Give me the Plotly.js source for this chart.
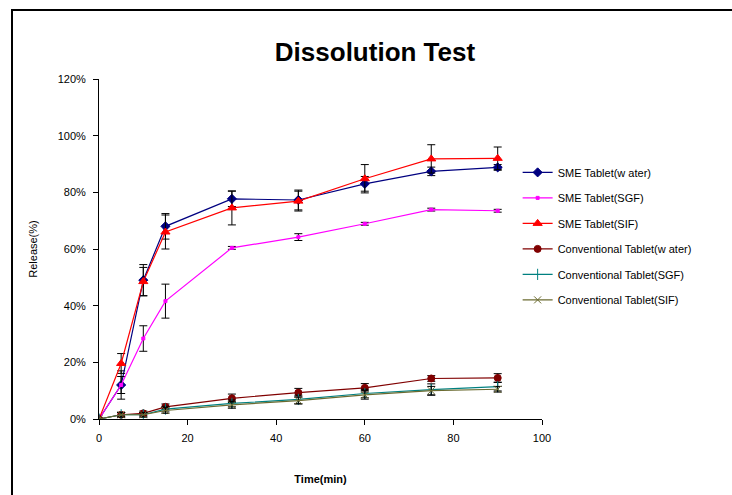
<!DOCTYPE html>
<html>
<head>
<meta charset="utf-8">
<script src="https://cdn.plot.ly/plotly-3.0.1.min.js"></script>
<style>
html,body{margin:0;padding:0;background:#fff;overflow:hidden;width:732px;height:495px;}
#chart{position:absolute;left:0;top:0;width:732px;height:495px;}
#frame{position:absolute;left:11px;top:9px;width:800px;height:600px;border-top:2px solid #000;border-left:2px solid #000;pointer-events:none;}
</style>
</head>
<body>
<div id="chart"></div>
<div id="frame"></div>
<script>
const time = [0, 5, 10, 15, 30, 45, 60, 75, 90];

const smeWater = [0, 12, 49, 68, 77.7, 77.3, 83, 87.4, 88.8];
const smeWaterErr = [0, 5, 5.5, 4.5, 2.7, 3.5, 2.6, 1.5, 1];

const smeSGF = [0, 12, 28.4, 41.6, 60.4, 64.2, 68.9, 73.9, 73.5];
const smeSGFErr = [0, 3, 4.5, 6, 0.5, 1.2, 0.5, 0.5, 0.5];

const smeSIF = [0, 19.6, 48.5, 66, 74.5, 76.9, 84.8, 91.8, 92];
const smeSIFErr = [0, 3.5, 5, 6, 6, 3.5, 5, 5, 4];

const convWater = [0, 1.5, 2, 4.3, 7.3, 9.3, 11, 14.3, 14.5];
const convWaterErr = [0, 0.8, 0.8, 1, 1.5, 1.5, 1.5, 1, 1.5];

const convSGF = [0, 1.5, 1.5, 3.5, 5.5, 6.9, 9, 10.4, 11.4];
const convSGFErr = [0, 0.8, 0.8, 1, 1.2, 1.5, 1.5, 2, 1.5];

const convSIF = [0, 1.5, 1.5, 3, 5, 6.5, 8.5, 10, 10.5];
const convSIFErr = [0, 0.8, 0.8, 1, 1.2, 1.2, 1.5, 1.5, 1];

const yTickVals = [0, 20, 40, 60, 80, 100, 120];
const yTickText = ['0%', '20%', '40%', '60%', '80%', '100%', '120%'];
const xTickVals = [0, 20, 40, 60, 80, 100];

const names = ['SME Tablet(w ater)', 'SME Tablet(SGF)', 'SME Tablet(SIF)',
  'Conventional Tablet(w ater)', 'Conventional Tablet(SGF)', 'Conventional Tablet(SIF)'];

function tr(i, y, err, color, symbol, size) {
  return {
    x: time, y: y, type: 'scatter', mode: 'lines+markers', name: names[i],
    legendgroup: 'g' + i,
    line: {color: color, width: 1.2},
    marker: {color: color, symbol: symbol, size: size, line: {color: color, width: 1}},
    error_y: {type: 'data', array: err, visible: true, color: '#000', thickness: 1, width: 4}
  };
}

const data = [
  tr(0, smeWater, smeWaterErr, '#000080', 'diamond', 7),
  tr(1, smeSGF, smeSGFErr, '#FF00FF', 'square', 3),
  tr(2, smeSIF, smeSIFErr, '#FF0000', 'triangle-up', 8),
  tr(3, convWater, convWaterErr, '#800000', 'circle', 7),
  tr(4, convSGF, convSGFErr, '#008080', 'line-ns-open', 8),
  tr(5, convSIF, convSIFErr, '#6b6b30', 'x-thin-open', 7)
];

const layout = {
  width: 732, height: 495,
  margin: {l: 99, r: 190, t: 79, b: 76},
  paper_bgcolor: '#fff', plot_bgcolor: '#fff',
  font: {family: 'Liberation Sans, Arial, sans-serif', size: 11, color: '#000'},
  title: {text: '<b>Dissolution Test</b>', font: {size: 26, color: '#000'},
    x: 375 / 732, xref: 'container', xanchor: 'center', y: 1 - 52 / 495, yref: 'container', yanchor: 'middle'},
  showlegend: true,
  legend: {x: 0.945, xanchor: 'left', y: 0.768, yanchor: 'top', traceorder: 'grouped',
    tracegroupgap: 6.5, font: {size: 11}, bgcolor: 'rgba(0,0,0,0)'},
  xaxis: {range: [0, 100], tickvals: xTickVals, showgrid: false, zeroline: false,
    showline: true, linecolor: '#000', linewidth: 1, ticks: 'outside', ticklen: 5, tickcolor: '#000',
    ticklabelstandoff: 4,
    title: {text: '<b>Time(min)</b>', font: {size: 11}, standoff: 32}},
  yaxis: {range: [0, 120], tickvals: yTickVals, ticktext: yTickText, showgrid: false, zeroline: false,
    showline: true, linecolor: '#000', linewidth: 1, ticks: 'outside', ticklen: 5, tickcolor: '#000',
    ticklabelstandoff: 5,
    title: {text: 'Release(%)', font: {size: 11}, standoff: 17}}
};

Plotly.newPlot('chart', data, layout, {displayModeBar: false, staticPlot: true});
</script>
</body>
</html>
